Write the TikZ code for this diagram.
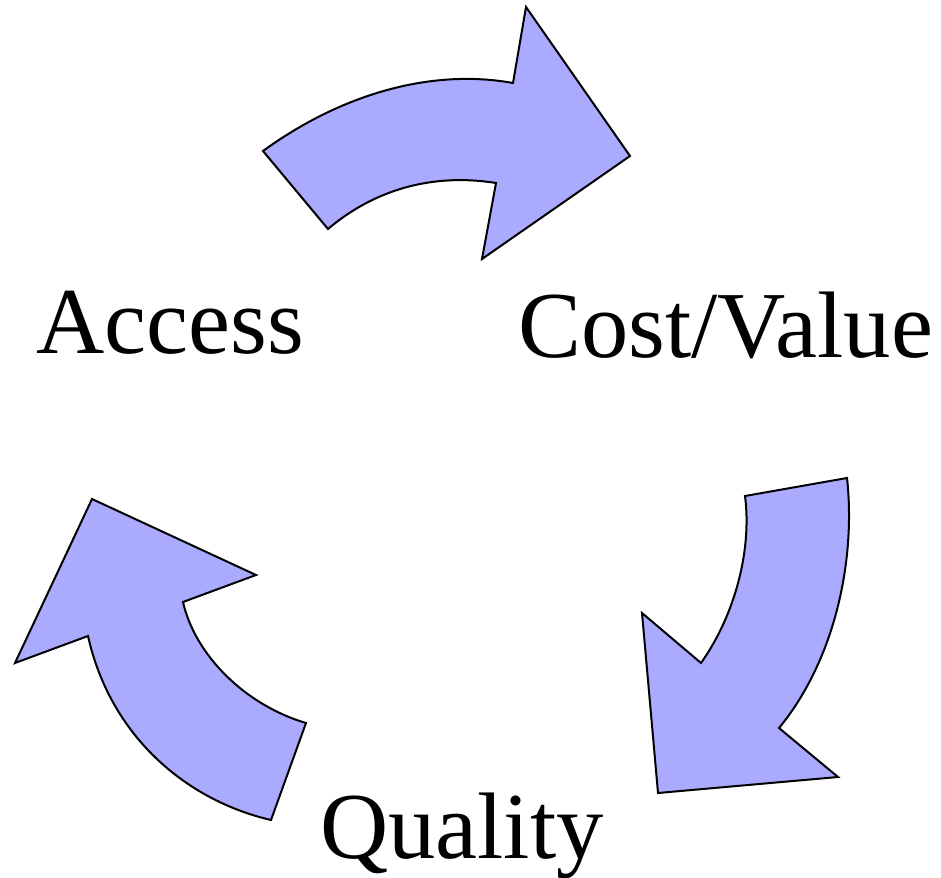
\documentclass[tikz,border=0pt]{standalone}
\usepackage{fontspec}
\setmainfont{Liberation Serif}
\definecolor{arrowfill}{HTML}{AAAAFF}
\begin{document}
\begin{tikzpicture}[x=1pt,y=-1pt,
  bigarrow/.style={fill=arrowfill,draw=black,line width=2pt,line join=miter},
  label/.style={font=\fontsize{94.5}{94.5}\selectfont,inner sep=0pt,anchor=base west}]
\useasboundingbox (0,0) rectangle (941,877);
% top arrow
\draw[bigarrow] (263,151) .. controls (340,95) and (430,68) .. (513,83)
  -- (526,7) -- (630,156) -- (482,259) -- (496,183)
  .. controls (440,174) and (380,185) .. (328,229) -- cycle;
% right arrow
\draw[bigarrow] (847,478) .. controls (856,560) and (835,660) .. (779,728)
  -- (838,777) -- (658,793) -- (642,613) -- (701,663)
  .. controls (735,615) and (752,550) .. (745,496) -- cycle;
% left arrow
\draw[bigarrow] (271,820) .. controls (185,800) and (110,735) .. (88,636)
  -- (15,663) -- (92,499) -- (256,575) -- (183,602)
  .. controls (195,655) and (245,705) .. (306,723) -- cycle;
\node[label] (access) at (36,353) {Access};
\node[label] (cost) at (518,357) {Cost/Value};
\node[label] (quality) at (320,858) {Quality};
\end{tikzpicture}
\end{document}
